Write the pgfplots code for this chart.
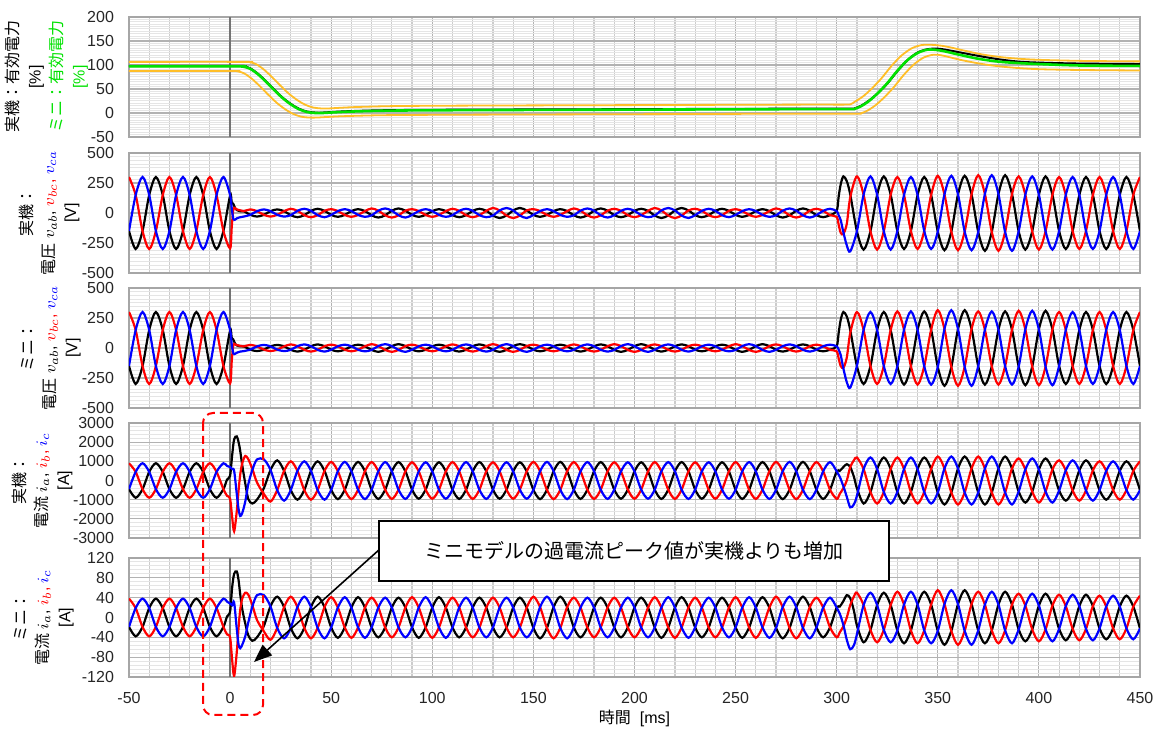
\documentclass[border=0pt]{standalone}
\usepackage{fontspec}
\setmainfont{Liberation Sans}
\newfontfamily\jp{Noto Sans CJK JP}
\usepackage{pgfplots}
\usepackage{pgfplotstable}
\pgfplotsset{compat=1.18}
\usetikzlibrary{arrows.meta}
\definecolor{lgreen}{RGB}{0,225,0}
\definecolor{orng}{RGB}{255,190,40}

\pgfplotstableread{
t r b k
-50 300 -150 -150
-46.7 150 150 -300
-43.3 -150 300 -150
-40 -300 150 150
-36.7 -150 -150 300
-33.3 150 -300 150
-30 300 -150 -150
-26.7 150 150 -300
-23.3 -150 300 -150
-20 -300 150 150
-16.7 -150 -150 300
-13.3 150 -300 150
-10 300 -150 -150
-6.7 150 150 -300
-3.3 -150 300 -150
0 -295 150 145
0.8 -120 40 90
1.6 30 -50 75
2.5 40 -55 40
3.3 30 -45 25
5 22 -35 15
6.7 15 -30 15
10 30 -15 -15
13.3 15 15 -30
16.7 -15 30 -15
20 -30 15 15
23.3 -15 -15 30
26.7 15 -30 15
30 35 -18 -18
33.3 18 18 -35
36.7 -18 35 -18
40 -35 18 18
43.3 -18 -18 35
46.7 18 -35 18
50 32 -16 -16
53.3 16 16 -32
56.7 -16 32 -16
60 -32 16 16
63.3 -16 -16 32
66.7 16 -32 16
70 38 -19 -19
73.3 19 19 -38
76.7 -19 38 -19
80 -38 19 19
83.3 -19 -19 38
86.7 19 -38 19
90 32 -16 -16
93.3 16 16 -32
96.7 -16 32 -16
100 -32 16 16
103.3 -16 -16 32
106.7 16 -32 16
110 35 -18 -18
113.3 18 18 -35
116.7 -18 35 -18
120 -35 18 18
123.3 -18 -18 35
126.7 18 -35 18
130 42 -21 -21
133.3 21 21 -42
136.7 -21 42 -21
140 -42 21 21
143.3 -21 -21 42
146.7 21 -42 21
150 32 -16 -16
153.3 16 16 -32
156.7 -16 32 -16
160 -32 16 16
163.3 -16 -16 32
166.7 16 -32 16
170 38 -19 -19
173.3 19 19 -38
176.7 -19 38 -19
180 -38 19 19
183.3 -19 -19 38
186.7 19 -38 19
190 35 -18 -18
193.3 18 18 -35
196.7 -18 35 -18
200 -35 18 18
203.3 -18 -18 35
206.7 18 -35 18
210 42 -21 -21
213.3 21 21 -42
216.7 -21 42 -21
220 -42 21 21
223.3 -21 -21 42
226.7 21 -42 21
230 35 -18 -18
233.3 18 18 -35
236.7 -18 35 -18
240 -35 18 18
243.3 -18 -18 35
246.7 18 -35 18
250 32 -16 -16
253.3 16 16 -32
256.7 -16 32 -16
260 -32 16 16
263.3 -16 -16 32
266.7 16 -32 16
270 38 -19 -19
273.3 19 19 -38
276.7 -19 38 -19
280 -38 19 19
283.3 -19 -19 38
286.7 19 -38 19
290 35 -18 -18
293.3 18 18 -35
296.7 -18 35 -18
300 -32 16 16
301 -100 -20 140
302 -165 -60 240
303.3 -175 -160 305
305 -90 -270 265
306.7 130 -320 155
310 305 -152 -152
313.3 152 152 -305
316.7 -152 305 -152
320 -305 152 152
323.3 -152 -152 305
326.7 152 -305 152
330 300 -150 -150
333.3 150 150 -300
336.7 -150 300 -150
340 -300 150 150
343.3 -150 -150 300
346.7 150 -300 150
350 310 -155 -155
353.3 155 155 -310
356.7 -155 310 -155
360 -310 155 155
363.3 -155 -155 310
366.7 155 -310 155
370 315 -158 -158
373.3 158 158 -315
376.7 -158 315 -158
380 -315 158 158
383.3 -158 -158 315
386.7 158 -315 158
390 305 -152 -152
393.3 152 152 -305
396.7 -152 305 -152
400 -305 152 152
403.3 -152 -152 305
406.7 152 -305 152
410 300 -150 -150
413.3 150 150 -300
416.7 -150 300 -150
420 -300 150 150
423.3 -150 -150 300
426.7 150 -300 150
430 300 -150 -150
433.3 150 150 -300
436.7 -150 300 -150
440 -300 150 150
443.3 -150 -150 300
446.7 150 -300 150
450 300 -150 -150
}\VR

\pgfplotstableread{
t r b k
-50 300 -150 -150
-46.7 150 150 -300
-43.3 -150 300 -150
-40 -300 150 150
-36.7 -150 -150 300
-33.3 150 -300 150
-30 300 -150 -150
-26.7 150 150 -300
-23.3 -150 300 -150
-20 -300 150 150
-16.7 -150 -150 300
-13.3 150 -300 150
-10 300 -150 -150
-6.7 150 150 -300
-3.3 -150 300 -150
0 -295 150 145
0.8 -110 30 85
1.6 25 -45 70
2.5 30 -48 35
3.3 25 -40 22
5 18 -30 14
6.7 13 -26 13
10 26 -13 -13
13.3 13 13 -26
16.7 -13 26 -13
20 -26 13 13
23.3 -13 -13 26
26.7 13 -26 13
30 30 -15 -15
33.3 15 15 -30
36.7 -15 30 -15
40 -30 15 15
43.3 -15 -15 30
46.7 15 -30 15
50 28 -14 -14
53.3 14 14 -28
56.7 -14 28 -14
60 -28 14 14
63.3 -14 -14 28
66.7 14 -28 14
70 32 -16 -16
73.3 16 16 -32
76.7 -16 32 -16
80 -32 16 16
83.3 -16 -16 32
86.7 16 -32 16
90 28 -14 -14
93.3 14 14 -28
96.7 -14 28 -14
100 -28 14 14
103.3 -14 -14 28
106.7 14 -28 14
110 30 -15 -15
113.3 15 15 -30
116.7 -15 30 -15
120 -30 15 15
123.3 -15 -15 30
126.7 15 -30 15
130 32 -16 -16
133.3 16 16 -32
136.7 -16 32 -16
140 -32 16 16
143.3 -16 -16 32
146.7 16 -32 16
150 28 -14 -14
153.3 14 14 -28
156.7 -14 28 -14
160 -28 14 14
163.3 -14 -14 28
166.7 14 -28 14
170 30 -15 -15
173.3 15 15 -30
176.7 -15 30 -15
180 -30 15 15
183.3 -15 -15 30
186.7 15 -30 15
190 32 -16 -16
193.3 16 16 -32
196.7 -16 32 -16
200 -32 16 16
203.3 -16 -16 32
206.7 16 -32 16
210 30 -15 -15
213.3 15 15 -30
216.7 -15 30 -15
220 -30 15 15
223.3 -15 -15 30
226.7 15 -30 15
230 28 -14 -14
233.3 14 14 -28
236.7 -14 28 -14
240 -28 14 14
243.3 -14 -14 28
246.7 14 -28 14
250 32 -16 -16
253.3 16 16 -32
256.7 -16 32 -16
260 -32 16 16
263.3 -16 -16 32
266.7 16 -32 16
270 30 -15 -15
273.3 15 15 -30
276.7 -15 30 -15
280 -30 15 15
283.3 -15 -15 30
286.7 15 -30 15
290 28 -14 -14
293.3 14 14 -28
296.7 -14 28 -14
300 -28 14 14
301 -90 -15 130
302 -150 -60 235
303.3 -165 -170 300
305 -80 -285 262
306.7 125 -330 150
310 300 -150 -150
313.3 150 150 -300
316.7 -150 300 -150
320 -300 150 150
323.3 -150 -150 300
326.7 150 -300 150
330 305 -152 -152
333.3 152 152 -305
336.7 -152 305 -152
340 -305 152 152
343.3 -152 -152 305
346.7 152 -305 152
350 315 -158 -158
353.3 158 158 -315
356.7 -158 315 -158
360 -315 158 158
363.3 -158 -158 315
366.7 158 -315 158
370 305 -152 -152
373.3 152 152 -305
376.7 -152 305 -152
380 -305 152 152
383.3 -152 -152 305
386.7 152 -305 152
390 310 -155 -155
393.3 155 155 -310
396.7 -155 310 -155
400 -310 155 155
403.3 -155 -155 310
406.7 155 -310 155
410 300 -150 -150
413.3 150 150 -300
416.7 -150 300 -150
420 -300 150 150
423.3 -150 -150 300
426.7 150 -300 150
430 300 -150 -150
433.3 150 150 -300
436.7 -150 300 -150
440 -300 150 150
443.3 -150 -150 300
446.7 150 -300 150
450 300 -150 -150
}\VM

\pgfplotstableread{
t r b k
-50 900 -450 -450
-46.7 450 450 -900
-43.3 -450 900 -450
-40 -900 450 450
-36.7 -450 -450 900
-33.3 450 -900 450
-30 900 -450 -450
-26.7 450 450 -900
-23.3 -450 900 -450
-20 -900 450 450
-16.7 -450 -450 900
-13.3 450 -900 450
-10 900 -450 -450
-6.7 450 450 -900
-3.3 -450 900 -450
-1.5 -800 760 50
0 -950 700 250
1 -1900 600 1300
2 -2650 500 2150
3.3 -1600 -700 2300
4.2 -500 -1500 2000
5 300 -1850 1550
6 900 -1700 800
7.5 1280 -1100 -150
9 1110 -190 -970
11 600 550 -1200
13.3 -100 1100 -1000
16.7 -700 1100 -400
20 -1100 550 550
23.3 -500 -500 1050
26.7 500 -1050 500
30 1000 -500 -500
33.3 500 500 -1000
36.7 -500 1000 -500
40 -1000 500 500
43.3 -500 -500 1000
46.7 500 -1000 500
50 970 -485 -485
53.3 485 485 -970
56.7 -485 970 -485
60 -970 485 485
63.3 -485 -485 970
66.7 485 -970 485
70 960 -480 -480
73.3 480 480 -960
76.7 -480 960 -480
80 -960 480 480
83.3 -480 -480 960
86.7 480 -960 480
90 950 -475 -475
93.3 475 475 -950
96.7 -475 950 -475
100 -950 475 475
103.3 -475 -475 950
106.7 475 -950 475
110 960 -480 -480
113.3 480 480 -960
116.7 -480 960 -480
120 -960 480 480
123.3 -480 -480 960
126.7 480 -960 480
130 950 -475 -475
133.3 475 475 -950
136.7 -475 950 -475
140 -950 475 475
143.3 -475 -475 950
146.7 475 -950 475
150 970 -485 -485
153.3 485 485 -970
156.7 -485 970 -485
160 -970 485 485
163.3 -485 -485 970
166.7 485 -970 485
170 960 -480 -480
173.3 480 480 -960
176.7 -480 960 -480
180 -960 480 480
183.3 -480 -480 960
186.7 480 -960 480
190 950 -475 -475
193.3 475 475 -950
196.7 -475 950 -475
200 -950 475 475
203.3 -475 -475 950
206.7 475 -950 475
210 960 -480 -480
213.3 480 480 -960
216.7 -480 960 -480
220 -960 480 480
223.3 -480 -480 960
226.7 480 -960 480
230 950 -475 -475
233.3 475 475 -950
236.7 -475 950 -475
240 -950 475 475
243.3 -475 -475 950
246.7 475 -950 475
250 960 -480 -480
253.3 480 480 -960
256.7 -480 960 -480
260 -960 480 480
263.3 -480 -480 960
266.7 480 -960 480
270 970 -485 -485
273.3 485 485 -970
276.7 -485 970 -485
280 -970 485 485
283.3 -485 -485 970
286.7 485 -970 485
290 960 -480 -480
293.3 480 480 -960
296.7 -480 960 -480
300 -960 480 480
301.5 -700 200 500
303.3 -400 -300 700
305 0 -850 850
306.7 700 -1400 700
308.5 1050 -1250 200
310 1200 -800 -400
313.3 600 600 -1200
316.7 -600 1200 -600
320 -1200 600 600
323.3 -600 -600 1200
326.7 600 -1200 600
330 1200 -600 -600
333.3 600 600 -1200
336.7 -600 1200 -600
340 -1200 600 600
343.3 -600 -600 1200
346.7 600 -1200 600
350 1250 -625 -625
353.3 625 625 -1250
356.7 -625 1250 -625
360 -1250 625 625
363.3 -625 -625 1250
366.7 625 -1250 625
370 1250 -625 -625
373.3 625 625 -1250
376.7 -625 1250 -625
380 -1250 625 625
383.3 -625 -625 1250
386.7 625 -1250 625
390 1150 -575 -575
393.3 575 575 -1150
396.7 -575 1150 -575
400 -1150 575 575
403.3 -575 -575 1150
406.7 575 -1150 575
410 1050 -525 -525
413.3 525 525 -1050
416.7 -525 1050 -525
420 -1050 525 525
423.3 -525 -525 1050
426.7 525 -1050 525
430 1000 -500 -500
433.3 500 500 -1000
436.7 -500 1000 -500
440 -1000 500 500
443.3 -500 -500 1000
446.7 500 -1000 500
450 1000 -500 -500
}\IR

\pgfplotstableread{
t r b k
-50 38 -19 -19
-46.7 19 19 -38
-43.3 -19 38 -19
-40 -38 19 19
-36.7 -19 -19 38
-33.3 19 -38 19
-30 38 -19 -19
-26.7 19 19 -38
-23.3 -19 38 -19
-20 -38 19 19
-16.7 -19 -19 38
-13.3 19 -38 19
-10 38 -19 -19
-6.7 19 19 -38
-3.3 -19 38 -19
-1.5 -34 32 2
0 -40 28 12
1 -85 25 60
2 -118 30 88
3.3 -70 -23 93
4.2 -20 -55 75
5 15 -62 47
6 38 -55 17
7.5 50 -38 -12
9 46 -10 -36
11 25 22 -47
13.3 -5 45 -40
16.7 -28 45 -17
20 -45 22 23
23.3 -21 -21 42
26.7 21 -42 21
30 42 -21 -21
33.3 21 21 -42
36.7 -21 42 -21
40 -42 21 21
43.3 -21 -21 42
46.7 21 -42 21
50 41 -20 -20
53.3 20 20 -41
56.7 -20 41 -20
60 -41 20 20
63.3 -20 -20 41
66.7 20 -41 20
70 40 -20 -20
73.3 20 20 -40
76.7 -20 40 -20
80 -40 20 20
83.3 -20 -20 40
86.7 20 -40 20
90 41 -20 -20
93.3 20 20 -41
96.7 -20 41 -20
100 -41 20 20
103.3 -20 -20 41
106.7 20 -41 20
110 40 -20 -20
113.3 20 20 -40
116.7 -20 40 -20
120 -40 20 20
123.3 -20 -20 40
126.7 20 -40 20
130 40 -20 -20
133.3 20 20 -40
136.7 -20 40 -20
140 -40 20 20
143.3 -20 -20 40
146.7 20 -40 20
150 42 -21 -21
153.3 21 21 -42
156.7 -21 42 -21
160 -42 21 21
163.3 -21 -21 42
166.7 21 -42 21
170 40 -20 -20
173.3 20 20 -40
176.7 -20 40 -20
180 -40 20 20
183.3 -20 -20 40
186.7 20 -40 20
190 40 -20 -20
193.3 20 20 -40
196.7 -20 40 -20
200 -40 20 20
203.3 -20 -20 40
206.7 20 -40 20
210 41 -20 -20
213.3 20 20 -41
216.7 -20 41 -20
220 -41 20 20
223.3 -20 -20 41
226.7 20 -41 20
230 40 -20 -20
233.3 20 20 -40
236.7 -20 40 -20
240 -40 20 20
243.3 -20 -20 40
246.7 20 -40 20
250 41 -20 -20
253.3 20 20 -41
256.7 -20 41 -20
260 -41 20 20
263.3 -20 -20 41
266.7 20 -41 20
270 42 -21 -21
273.3 21 21 -42
276.7 -21 42 -21
280 -42 21 21
283.3 -21 -21 42
286.7 21 -42 21
290 40 -20 -20
293.3 20 20 -40
296.7 -20 40 -20
300 -40 20 20
301.5 -30 8 22
303.3 -18 -15 33
305 0 -45 45
306.7 25 -64 39
308.5 42 -56 14
310 50 -34 -16
313.3 25 25 -50
316.7 -25 50 -25
320 -50 25 25
323.3 -25 -25 50
326.7 25 -50 25
330 52 -26 -26
333.3 26 26 -52
336.7 -26 52 -26
340 -52 26 26
343.3 -26 -26 52
346.7 26 -52 26
350 55 -27 -27
353.3 27 27 -55
356.7 -27 55 -27
360 -55 27 27
363.3 -27 -27 55
366.7 27 -55 27
370 52 -26 -26
373.3 26 26 -52
376.7 -26 52 -26
380 -52 26 26
383.3 -26 -26 52
386.7 26 -52 26
390 48 -24 -24
393.3 24 24 -48
396.7 -24 48 -24
400 -48 24 24
403.3 -24 -24 48
406.7 24 -48 24
410 46 -23 -23
413.3 23 23 -46
416.7 -23 46 -23
420 -46 23 23
423.3 -23 -23 46
426.7 23 -46 23
430 44 -22 -22
433.3 22 22 -44
436.7 -22 44 -22
440 -44 22 22
443.3 -22 -22 44
446.7 22 -44 22
450 44 -22 -22
}\IM

\pgfplotsset{
  panel/.style={
    scale only axis, width=505.5pt, anchor=north west,
    xmin=-50, xmax=450, xtick={-50,0,...,450}, minor x tick num=4,
    grid=both,
    major grid style={gray!60, line width=0.6pt},
    minor x grid style={gray!40, line width=0.6pt},
    minor y grid style={gray!20, line width=0.5pt},
    axis line style={gray!70, line width=0.6pt},
    major tick length=0pt, minor tick length=0pt,
    tick label style={font=\fontsize{8}{9}\selectfont, text=black!85},
    /pgf/number format/assume math mode=true,
    /pgf/number format/1000 sep={},
    scaled y ticks=false,
    yticklabel style={xshift=-4pt},
    xticklabel style={yshift=-4pt},
    extra x ticks={0}, extra x tick labels={},
    extra x tick style={grid=major, major grid style={black!55, line width=1.1pt}},
    ylabel style={anchor=center, align=center, font=\fontsize{8}{11}\selectfont},
  },
  sig/.style={line width=1.1pt, smooth},
}

\begin{document}
\begin{tikzpicture}
\useasboundingbox (0,0) rectangle (579pt,-365.5pt);

% Panel 1: active power
\begin{axis}[panel, at={(64.5pt,-8.5pt)}, height=60pt,
  ymin=-50, ymax=200, ytick={-50,0,...,200}, minor y tick num=9,
  xticklabels={},
  ylabel={{\jp 実機：有効電力}\\{[\%]}\\\textcolor{lgreen}{\jp ミニ：有効電力}\\\textcolor{lgreen}{[\%]}},
  ylabel style={at={(axis description cs:-0.0816,0.5)}}]
\addplot[orng, line width=0.9pt, smooth] coordinates {(-50,106.5) (7,106.5) (10,105.5) (13,101.5) (17,89.5) (21,73.5) (25,56.5) (29,40.5) (33,27.5) (37,17.5) (41,11.5) (45,9.5) (49,9.5) (53,10.5) (63,12.5) (83,14.5) (123,15.5) (203,16.5) (283,17.5) (304,17.5) (307,18.5) (309,23.5) (313,34.5) (317,49.5) (322,71.5) (327,97.5) (332,119.5) (337,134.5) (342,141.5) (347,142) (352,140) (357,136) (362,131) (372,122) (382,116) (392,112.5) (402,110.5) (422,108.5) (450,107.5)};
\addplot[orng, line width=0.9pt, smooth] coordinates {(-50,87.5) (1,87.5) (4,86.5) (7,82.5) (11,70.5) (15,54.5) (19,37.5) (23,21.5) (27,8.5) (31,-1.5) (35,-7.5) (39,-9.5) (43,-9.5) (47,-8.5) (57,-6.5) (77,-4.5) (117,-3.5) (197,-2.5) (277,-1.5) (309,-1.5) (312,-0.5) (315,4.5) (319,15.5) (323,30.5) (328,52.5) (333,78.5) (338,100.5) (343,115.5) (348,121.5) (352,120) (357,115) (362,110) (372,102) (382,96.5) (392,93) (402,91) (422,89.5) (450,88.5)};
\addplot[black, line width=1pt, smooth] coordinates {(-50,98) (4,98) (7,97) (10,93) (14,81) (18,65) (22,48) (26,32) (30,19) (34,9) (38,3) (42,1) (46,1) (50,2) (60,4) (80,6) (120,7) (200,8) (280,9) (306,9) (309,10) (312,15) (316,26) (320,40) (325,61) (330,87) (335,110) (340,126) (345,133) (350,134) (355,131) (360,127) (370,119) (380,112) (390,107) (400,105) (420,103) (450,102)};
\addplot[lgreen, line width=1.3pt, smooth] coordinates {(-50,97) (4,97) (7,96) (10,92) (14,80) (18,64) (22,47) (26,31) (30,18) (34,8) (38,2) (42,0) (46,0) (50,1) (60,3) (80,5) (120,6) (200,7) (280,8) (306,8) (309,9) (312,14) (316,25) (320,40) (325,62) (330,88) (335,110) (340,125) (345,132) (350,131) (355,127) (360,122) (370,113) (380,107) (390,104) (400,102) (420,99) (450,98)};
\end{axis}

% Panel 2: real voltage
\begin{axis}[panel, at={(64.5pt,-76.5pt)}, height=60pt,
  ymin=-500, ymax=500, ytick={-500,-250,0,250,500}, minor y tick num=7,
  xticklabels={},
  ylabel={{\jp 実機：}\\{\jp 電圧} $v_{ab}$, \textcolor{red}{$v_{bc}$,} \textcolor{blue}{$v_{ca}$}\\{[V]}},
  ylabel style={at={(axis description cs:-0.0791,0.5)}}]
\addplot[black, sig] table[x=t,y=k]{\VR};
\addplot[red, sig] table[x=t,y=r]{\VR};
\addplot[blue, sig] table[x=t,y=b]{\VR};
\end{axis}

% Panel 3: mini voltage
\begin{axis}[panel, at={(64.5pt,-144pt)}, height=60pt,
  ymin=-500, ymax=500, ytick={-500,-250,0,250,500}, minor y tick num=7,
  xticklabels={},
  ylabel={{\jp ミニ：}\\{\jp 電圧} $v_{ab}$, \textcolor{red}{$v_{bc}$,} \textcolor{blue}{$v_{ca}$}\\{[V]}},
  ylabel style={at={(axis description cs:-0.0772,0.5)}}]
\addplot[black, sig] table[x=t,y=k]{\VM};
\addplot[red, sig] table[x=t,y=r]{\VM};
\addplot[blue, sig] table[x=t,y=b]{\VM};
\end{axis}

% Panel 4: real current
\begin{axis}[panel, at={(64.5pt,-211.5pt)}, height=57.5pt,
  ymin=-3000, ymax=3000, ytick={-3000,-2000,...,3000}, minor y tick num=4,
  xticklabels={},
  ylabel={{\jp 実機：}\\{\jp 電流} $i_{a}$, \textcolor{red}{$i_{b}$,} \textcolor{blue}{$i_{c}$}\\{[A]}},
  ylabel style={at={(axis description cs:-0.0861,0.5)}}]
\addplot[black, sig] table[x=t,y=k]{\IR};
\addplot[red, sig] table[x=t,y=r]{\IR};
\addplot[blue, sig] table[x=t,y=b]{\IR};
\end{axis}

% Panel 5: mini current
\begin{axis}[panel, at={(64.5pt,-279pt)}, height=59.5pt,
  ymin=-120, ymax=120, ytick={-120,-80,...,120}, minor y tick num=4,
  xlabel={{\jp 時間}\ \ [ms]},
  xlabel style={at={(axis description cs:0.5,0)}, anchor=center, yshift=-20.5pt, font=\fontsize{8}{9}\selectfont},
  ylabel={{\jp ミニ：}\\{\jp 電流} $i_{a}$, \textcolor{red}{$i_{b}$,} \textcolor{blue}{$i_{c}$}\\{[A]}},
  ylabel style={at={(axis description cs:-0.0841,0.5)}}]
\addplot[black, sig] table[x=t,y=k]{\IM};
\addplot[red, sig] table[x=t,y=r]{\IM};
\addplot[blue, sig] table[x=t,y=b]{\IM};
\end{axis}

% annotations
\draw[red, line width=1pt, dash pattern=on 4pt off 2.5pt, rounded corners=5pt]
  (101.5pt,-206.5pt) rectangle (131.5pt,-357.5pt);
\draw[black, line width=0.8pt, -{Triangle[length=9pt,width=7pt]}] (190pt,-274.5pt) -- (127pt,-331pt);
\node[draw=black, line width=0.8pt, fill=white, anchor=north west,
  minimum width=255pt, minimum height=30pt, inner sep=0pt,
  font=\jp\fontsize{10}{12}\selectfont] at (189pt,-260pt) {ミニモデルの過電流ピーク値が実機よりも増加};
\end{tikzpicture}
\end{document}
